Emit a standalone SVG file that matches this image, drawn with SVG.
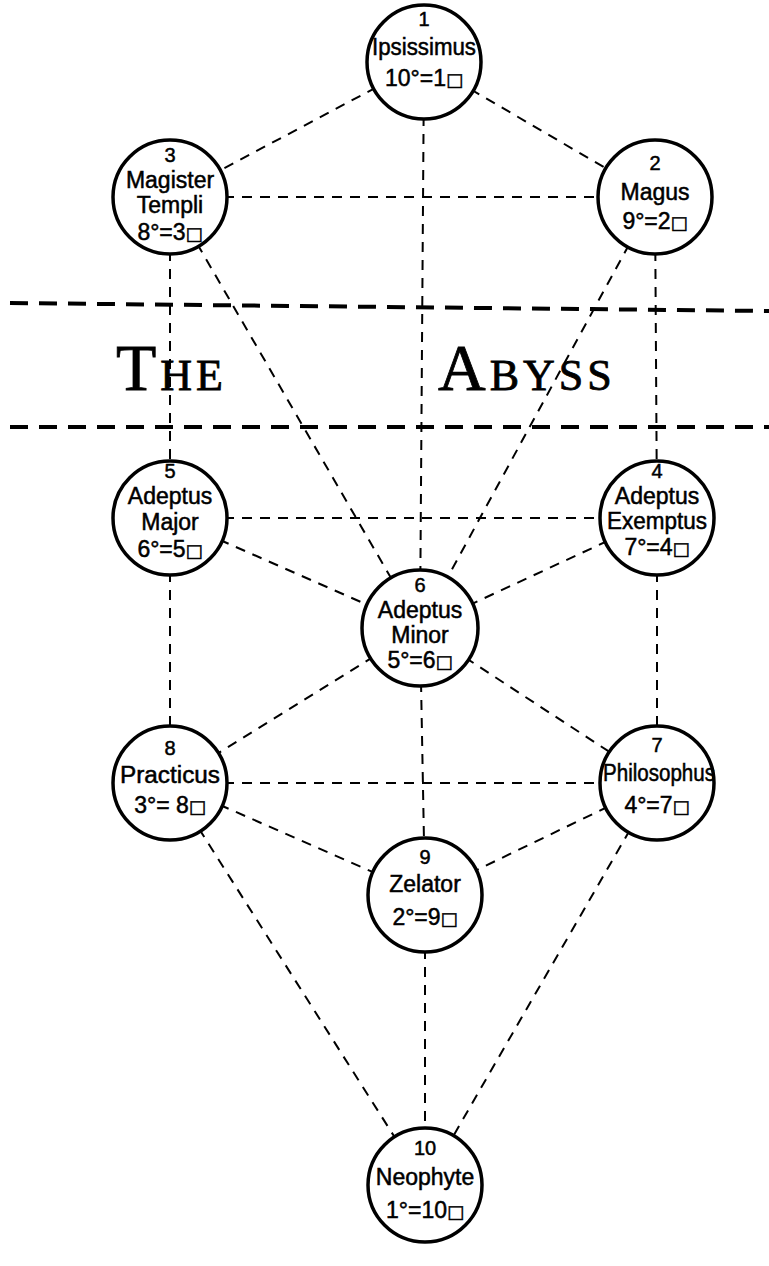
<svg xmlns="http://www.w3.org/2000/svg" width="769" height="1266" viewBox="0 0 769 1266">
<style>
.c{fill:#fff;stroke:#000;stroke-width:3.5}
.e{stroke:#000;stroke-width:2;stroke-dasharray:10 8;fill:none}
.a{stroke:#000;stroke-width:4;stroke-dasharray:18 11;fill:none}
.t{font-family:"Liberation Sans",Arial,sans-serif;font-size:23px;text-anchor:middle;fill:#000;stroke:#000;stroke-width:0.5}
.n{font-size:20px}
.s{font-family:"DejaVu Sans",sans-serif;font-size:18px}
.ab{font-family:"Liberation Serif","Times New Roman",serif;fill:#000;stroke:#000;stroke-width:0.8}
</style>
<rect width="769" height="1266" fill="#fff"/>
<g id="connectors">
<line class="e" x1="424" y1="62" x2="170" y2="197"/>
<line class="e" x1="424" y1="62" x2="655" y2="197"/>
<line class="e" x1="424" y1="62" x2="420" y2="628"/>
<line class="e" x1="170" y1="197" x2="655" y2="197"/>
<line class="e" x1="170" y1="197" x2="170" y2="518"/>
<line class="e" x1="170" y1="197" x2="420" y2="628"/>
<line class="e" x1="655" y1="197" x2="657" y2="518"/>
<line class="e" x1="655" y1="197" x2="420" y2="628"/>
<line class="e" x1="170" y1="518" x2="657" y2="518"/>
<line class="e" x1="170" y1="518" x2="420" y2="628"/>
<line class="e" x1="657" y1="518" x2="420" y2="628"/>
<line class="e" x1="170" y1="518" x2="170" y2="783"/>
<line class="e" x1="657" y1="518" x2="657" y2="783"/>
<line class="e" x1="420" y1="628" x2="170" y2="783"/>
<line class="e" x1="420" y1="628" x2="657" y2="783"/>
<line class="e" x1="420" y1="628" x2="425" y2="895"/>
<line class="e" x1="170" y1="783" x2="657" y2="783"/>
<line class="e" x1="170" y1="783" x2="425" y2="895"/>
<line class="e" x1="657" y1="783" x2="425" y2="895"/>
<line class="e" x1="170" y1="783" x2="425" y2="1185"/>
<line class="e" x1="657" y1="783" x2="425" y2="1185"/>
<line class="e" x1="425" y1="895" x2="425" y2="1185"/>
</g>
<g id="abyss">
<path class="a" d="M10 303 L769 311"/>
<path class="a" d="M10 427 L769 427"/>
<text class="ab" x="116" y="390" font-size="66" letter-spacing="4">T<tspan font-size="44">HE</tspan></text>
<text class="ab" x="438" y="390" font-size="66" letter-spacing="4">A<tspan font-size="44">BYSS</tspan></text>
</g>
<g id="n1"><circle class="c" cx="424" cy="62" r="57"/><text class="t"><tspan class="n" x="424" y="26">1</tspan><tspan x="424" y="55" textLength="104" lengthAdjust="spacingAndGlyphs">Ipsissimus</tspan><tspan x="424" y="86">10°=1<tspan class="s">□</tspan></tspan></text></g>
<g id="n3"><circle class="c" cx="170" cy="197" r="57"/><text class="t"><tspan class="n" x="170" y="162">3</tspan><tspan x="170" y="188">Magister</tspan><tspan x="170" y="213">Templi</tspan><tspan x="170" y="240">8°=3<tspan class="s">□</tspan></tspan></text></g>
<g id="n2"><circle class="c" cx="655" cy="197" r="57"/><text class="t"><tspan class="n" x="655" y="170">2</tspan><tspan x="655" y="200">Magus</tspan><tspan x="655" y="229">9°=2<tspan class="s">□</tspan></tspan></text></g>
<g id="n5"><circle class="c" cx="170" cy="518" r="57"/><text class="t"><tspan class="n" x="170" y="478">5</tspan><tspan x="170" y="504">Adeptus</tspan><tspan x="170" y="530">Major</tspan><tspan x="170" y="557">6°=5<tspan class="s">□</tspan></tspan></text></g>
<g id="n4"><circle class="c" cx="657" cy="518" r="57"/><text class="t"><tspan class="n" x="657" y="478">4</tspan><tspan x="657" y="504">Adeptus</tspan><tspan x="657" y="529" textLength="100" lengthAdjust="spacingAndGlyphs">Exemptus</tspan><tspan x="657" y="555">7°=4<tspan class="s">□</tspan></tspan></text></g>
<g id="n6"><circle class="c" cx="420" cy="628" r="58"/><text class="t"><tspan class="n" x="420" y="592">6</tspan><tspan x="420" y="618">Adeptus</tspan><tspan x="420" y="643">Minor</tspan><tspan x="420" y="668">5°=6<tspan class="s">□</tspan></tspan></text></g>
<g id="n8"><circle class="c" cx="170" cy="783" r="57"/><text class="t"><tspan class="n" x="170" y="755">8</tspan><tspan x="170" y="783" textLength="100" lengthAdjust="spacingAndGlyphs">Practicus</tspan><tspan x="170" y="813">3°= 8<tspan class="s">□</tspan></tspan></text></g>
<g id="n7"><circle class="c" cx="657" cy="783" r="57"/><text class="t"><tspan class="n" x="657" y="752">7</tspan><tspan x="659" y="781" textLength="112" lengthAdjust="spacingAndGlyphs">Philosophus</tspan><tspan x="657" y="813">4°=7<tspan class="s">□</tspan></tspan></text></g>
<g id="n9"><circle class="c" cx="425" cy="895" r="57"/><text class="t"><tspan class="n" x="425" y="864">9</tspan><tspan x="425" y="892">Zelator</tspan><tspan x="425" y="925">2°=9<tspan class="s">□</tspan></tspan></text></g>
<g id="n10"><circle class="c" cx="425" cy="1185" r="57"/><text class="t"><tspan class="n" x="425" y="1155">10</tspan><tspan x="425" y="1185">Neophyte</tspan><tspan x="425" y="1218">1°=10<tspan class="s">□</tspan></tspan></text></g>
</svg>
